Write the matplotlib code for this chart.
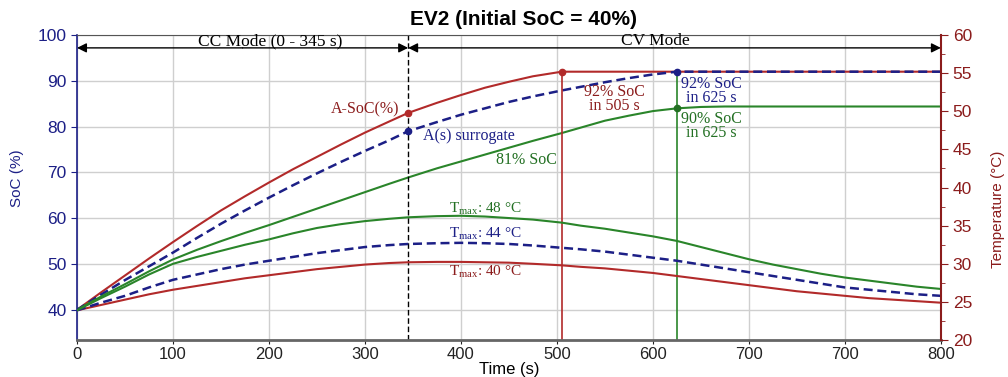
import matplotlib
matplotlib.use('Agg')
import matplotlib.pyplot as plt
from matplotlib.ticker import MultipleLocator

# time axis (s) and tick labels as printed on the chart
time = [0, 25, 50, 75, 100, 125, 150, 175, 200, 225, 250, 275, 300, 325, 345,
        375, 400, 425, 450, 475, 505, 525, 550, 575, 600, 625, 650, 675, 700,
        725, 750, 775, 800, 825, 850, 875, 900]
xtick_pos = [0, 100, 200, 300, 400, 500, 600, 700, 800, 900]
xtick_labels = ['0', '100', '200', '300', '400', '500', '600', '700', '700', '800']

# state of charge (%)
soc_asoc = [40, 43.8, 47.5, 51.2, 54.8, 58.3, 61.7, 64.8, 67.8, 70.7, 73.4, 76.1, 78.7, 81.1, 83.0,
            85.2, 86.9, 88.5, 89.8, 91.0, 92.0, 92, 92, 92, 92, 92, 92, 92, 92,
            92, 92, 92, 92, 92, 92, 92, 92]
soc_surrogate = [40, 43.3, 46.5, 49.5, 52.5, 55.7, 58.8, 61.7, 64.5, 67.2, 69.8, 72.3, 74.7, 77.0, 79.0,
                 81.0, 82.6, 84.0, 85.4, 86.6, 87.9, 88.7, 89.7, 90.6, 91.4, 92.0, 92, 92, 92,
                 92, 92, 92, 92, 92, 92, 92, 92]
soc_green = [40, 42.9, 45.6, 48.4, 51.0, 53.1, 55.0, 56.8, 58.5, 60.3, 62.1, 63.9, 65.7, 67.5, 68.9,
             70.9, 72.4, 73.9, 75.4, 76.9, 78.6, 79.8, 81.3, 82.4, 83.4, 84.0, 84.3, 84.4, 84.4,
             84.4, 84.4, 84.4, 84.4, 84.4, 84.4, 84.4, 84.4]

# temperature (degC)
temp_red = [23.9, 24.6, 25.3, 26.0, 26.6, 27.1, 27.6, 28.1, 28.5, 28.9, 29.3, 29.6, 29.9, 30.1, 30.2,
            30.25, 30.25, 30.2, 30.15, 30.0, 29.8, 29.6, 29.4, 29.1, 28.8, 28.4, 28.0, 27.6, 27.2,
            26.8, 26.4, 26.1, 25.8, 25.5, 25.3, 25.1, 24.9]
temp_blue = [23.9, 24.9, 25.8, 26.9, 27.9, 28.6, 29.3, 29.9, 30.4, 30.9, 31.4, 31.8, 32.2, 32.45, 32.6,
             32.7, 32.75, 32.7, 32.6, 32.4, 32.1, 31.9, 31.6, 31.2, 30.8, 30.4, 29.9, 29.4, 28.9,
             28.4, 27.9, 27.4, 26.9, 26.6, 26.3, 26.0, 25.8]
temp_green = [23.9, 25.5, 27.0, 28.6, 30.0, 30.9, 31.7, 32.5, 33.2, 34.0, 34.7, 35.2, 35.6, 35.9, 36.1,
              36.25, 36.3, 36.2, 36.0, 35.8, 35.4, 35.0, 34.6, 34.1, 33.6, 33.0, 32.2, 31.4, 30.6,
              29.9, 29.3, 28.7, 28.2, 27.8, 27.4, 27.0, 26.7]

# switch from CC to CV mode and time to reach final SoC
t_cc_end = 345
t_red_full = 505
t_full = 625
soc_red_cc_end = 83.0
soc_blue_cc_end = 79.0
soc_full = 92
soc_green_full = 84.0

RED = '#b22a2a'
DRED = '#8b1c1c'
NAVY = '#1c1f86'
GREEN = '#2a852a'
DGREEN = '#237023'

plt.rcParams['font.family'] = 'Liberation Sans'
plt.rcParams['mathtext.fontset'] = 'custom'
plt.rcParams['mathtext.rm'] = 'Liberation Serif'
serif = 'Liberation Serif'

fig = plt.figure(figsize=(10.08, 3.77), dpi=100)
ax = fig.add_axes([0.0764, 0.098, 0.857, 0.809])
ax2 = ax.twinx()

ax.set_xlim(0, 900)
ax.set_ylim(33.4, 100)
ax2.set_ylim(20, 60)

ax.set_xticks(xtick_pos)
ax.set_xticklabels(xtick_labels)
ax.set_yticks([40, 50, 60, 70, 80, 90, 100])
ax2.set_yticks(range(20, 61, 5))
ax2.yaxis.set_minor_locator(MultipleLocator(2.5))

ax.grid(True, color='#cfcfcf', lw=1)
ax.set_axisbelow(True)

# SoC curves
ax.plot(time, soc_asoc, color=RED, lw=1.5)
ax.plot(time, soc_surrogate, color=NAVY, lw=1.8, ls=(0, (3.6, 1.9)))
ax.plot(time, soc_green, color=GREEN, lw=1.5)

# temperature curves
ax2.plot(time, temp_red, color=RED, lw=1.5)
ax2.plot(time, temp_blue, color=NAVY, lw=1.8, ls=(0, (3.6, 1.9)))
ax2.plot(time, temp_green, color=GREEN, lw=1.5)

# mode boundary and completion markers
ax.axvline(t_cc_end, color='k', lw=1, ls=(0, (4, 2)))
ax.plot([t_red_full, t_red_full], [33.4, soc_full], color=RED, lw=1.2)
ax.plot([t_full, t_full], [33.4, soc_full], color=GREEN, lw=1.2)
ax.plot([t_cc_end], [soc_red_cc_end], 'o', color=RED, ms=4.5)
ax.plot([t_cc_end], [soc_blue_cc_end], 'o', color=NAVY, ms=4.5)
ax.plot([t_red_full], [soc_full], 'o', color=RED, ms=4.5)
ax.plot([t_full], [soc_full], 'o', color=NAVY, ms=4.5)
ax.plot([t_full], [soc_green_full], 'o', color=DGREEN, ms=4.5)

# CC / CV arrows
arrow = dict(arrowstyle='-|>', color='k', lw=1, mutation_scale=14, shrinkA=0, shrinkB=0)
ax.annotate('', xy=(0, 97.2), xytext=(t_cc_end / 2, 97.2), arrowprops=arrow)
ax.annotate('', xy=(t_cc_end, 97.2), xytext=(t_cc_end / 2, 97.2), arrowprops=arrow)
ax.annotate('', xy=(t_cc_end, 97.2), xytext=(620, 97.2), arrowprops=arrow)
ax.annotate('', xy=(900, 97.2), xytext=(620, 97.2), arrowprops=arrow)
ax.text(201, 97.75, 'CC Mode (0 - 345 s)', ha='center', va='baseline', fontsize=12.5, family=serif)
ax.text(603, 97.75, 'CV Mode', ha='center', va='baseline', fontsize=12.5, family=serif)

# annotations
fs = 11.5
ax.text(336, 83.8, 'A-SoC(%)', color=DRED, ha='right', va='center', fontsize=fs, family=serif)
ax.text(360, 78.0, 'A(s) surrogate', color=NAVY, ha='left', va='center', fontsize=fs, family=serif)
ax.text(468, 72.8, '81% SoC', color=DGREEN, ha='center', va='center', fontsize=fs, family=serif)
ax.text(560, 86.1, '92% SoC\nin 505 s', color=DRED, ha='center', va='center', fontsize=fs,
        family=serif, linespacing=0.8)
ax.text(661, 87.8, '92% SoC\nin 625 s', color=NAVY, ha='center', va='center', fontsize=fs,
        family=serif, linespacing=0.8)
ax.text(661, 80.1, '90% SoC\nin 625 s', color=DGREEN, ha='center', va='center', fontsize=fs,
        family=serif, linespacing=0.8)
ax.text(426, 62.0, r'T$_{\rm max}$: 48 °C', color=DGREEN, ha='center', va='center', fontsize=11, family=serif)
ax.text(426, 56.6, r'T$_{\rm max}$: 44 °C', color=NAVY, ha='center', va='center', fontsize=11, family=serif)
ax.text(426, 48.4, r'T$_{\rm max}$: 40 °C', color=DRED, ha='center', va='center', fontsize=11, family=serif)

# axes styling
ax.spines['left'].set_color(NAVY)
ax.spines['left'].set_linewidth(1.2)
ax.spines['right'].set_visible(False)
ax.spines['top'].set_color('#555555')
ax.spines['bottom'].set_color('#666666')
ax.spines['bottom'].set_linewidth(2)
for s in ['left', 'top', 'bottom']:
    ax2.spines[s].set_visible(False)
ax2.spines['right'].set_color(DRED)
ax2.spines['right'].set_linewidth(1.5)

ax.tick_params(axis='y', colors=NAVY, labelsize=12.5, length=4)
ax.tick_params(axis='x', colors='#222222', labelsize=12, length=3, pad=2)
ax2.tick_params(axis='y', which='major', colors=DRED, labelsize=12.5, length=5)
ax2.tick_params(axis='y', which='minor', colors=DRED, length=3)

ax.set_xlabel('Time (s)', fontsize=12, labelpad=0)
ax.set_ylabel('SoC (%)', color=NAVY, fontsize=11)
ax2.set_ylabel('Temperature (°C)', color=DRED, fontsize=11)
ax.yaxis.set_label_coords(-0.061, 0.53)
ax2.yaxis.set_label_coords(1.058, 0.43)

fig.text(0.519, 0.947, 'EV2 (Initial SoC = 40%)', ha='center', va='center',
         fontsize=15, fontweight='bold')

fig.savefig('out.png', dpi=100)
